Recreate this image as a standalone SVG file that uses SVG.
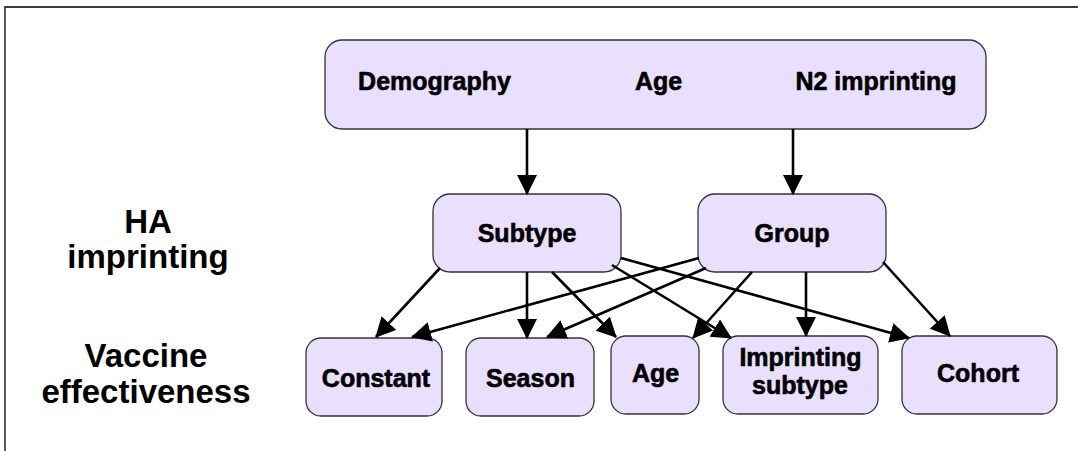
<svg xmlns="http://www.w3.org/2000/svg" width="1078" height="451" viewBox="0 0 1078 451">
<style>
.box{fill:#E8E0FE;stroke:#333;stroke-width:1.3}
.t{font-family:"Liberation Sans",Arial,sans-serif;font-weight:bold;font-size:25px;fill:#000;stroke:#000;stroke-width:0.6;text-anchor:middle}
.lbl{font-family:"Liberation Sans",Arial,sans-serif;font-weight:bold;font-size:33px;fill:#000;text-anchor:middle}
.c line{stroke:#000;stroke-width:2.6}
</style>
<defs>
<marker id="ah" markerUnits="userSpaceOnUse" viewBox="0 0 20 20" markerWidth="20" markerHeight="20" refX="19" refY="10" orient="auto">
<path d="M0,0 L20,10 L0,20 z" fill="#000"/>
</marker>
</defs>
<rect width="1078" height="451" fill="#fff"/>
<path d="M5,451 V7 H1078" fill="none" stroke="#000" stroke-width="1.3"/>
<g id="label-ha"><text class="lbl" x="148" y="233">HA</text><text class="lbl" x="148" y="268">imprinting</text></g>
<g id="label-ve"><text class="lbl" x="146" y="367">Vaccine</text><text class="lbl" x="146" y="403">effectiveness</text></g>
<g id="top"><rect class="box" x="325" y="40" width="661" height="89" rx="17"/>
<text class="t" x="434.5" y="90">Demography</text><text class="t" x="658.5" y="90">Age</text><text class="t" x="876" y="90">N2 imprinting</text></g>
<g id="subtype"><rect class="box" x="433" y="194" width="188" height="78" rx="17"/><text class="t" x="527" y="242">Subtype</text></g>
<g id="group"><rect class="box" x="698" y="194" width="188" height="78" rx="17"/><text class="t" x="792" y="242">Group</text></g>
<g id="constant"><rect class="box" x="306" y="338" width="136" height="78" rx="15"/><text class="t" x="376" y="387">Constant</text></g>
<g id="season"><rect class="box" x="466" y="338" width="128" height="78" rx="15"/><text class="t" x="530.5" y="387">Season</text></g>
<g id="age"><rect class="box" x="611" y="336" width="88" height="78" rx="15"/><text class="t" x="655.5" y="382">Age</text></g>
<g id="imprinting-subtype"><rect class="box" x="723" y="336" width="155" height="78" rx="15"/><text class="t" x="800.5" y="366">Imprinting</text><text class="t" x="800" y="394">subtype</text></g>
<g id="cohort"><rect class="box" x="902" y="336" width="155" height="78" rx="15"/><text class="t" x="978" y="382">Cohort</text></g>
<g id="connectors" class="c">
<line x1="527" y1="129" x2="527" y2="194" marker-end="url(#ah)"/>
<line x1="793" y1="129" x2="793" y2="194" marker-end="url(#ah)"/>
<line x1="440" y1="268" x2="376" y2="337" marker-end="url(#ah)"/>
<line x1="527" y1="272" x2="527" y2="338" marker-end="url(#ah)"/>
<line x1="552" y1="272" x2="616" y2="337" marker-end="url(#ah)"/>
<line x1="612" y1="265" x2="731" y2="338" marker-end="url(#ah)"/>
<line x1="621" y1="258" x2="909" y2="338" marker-end="url(#ah)"/>
<line x1="699" y1="258" x2="412" y2="337" marker-end="url(#ah)"/>
<line x1="706" y1="268" x2="547" y2="337" marker-end="url(#ah)"/>
<line x1="752" y1="272" x2="693" y2="338" marker-end="url(#ah)"/>
<line x1="806" y1="272" x2="806" y2="336" marker-end="url(#ah)"/>
<line x1="883" y1="262" x2="950" y2="336" marker-end="url(#ah)"/>
</g>
</svg>
